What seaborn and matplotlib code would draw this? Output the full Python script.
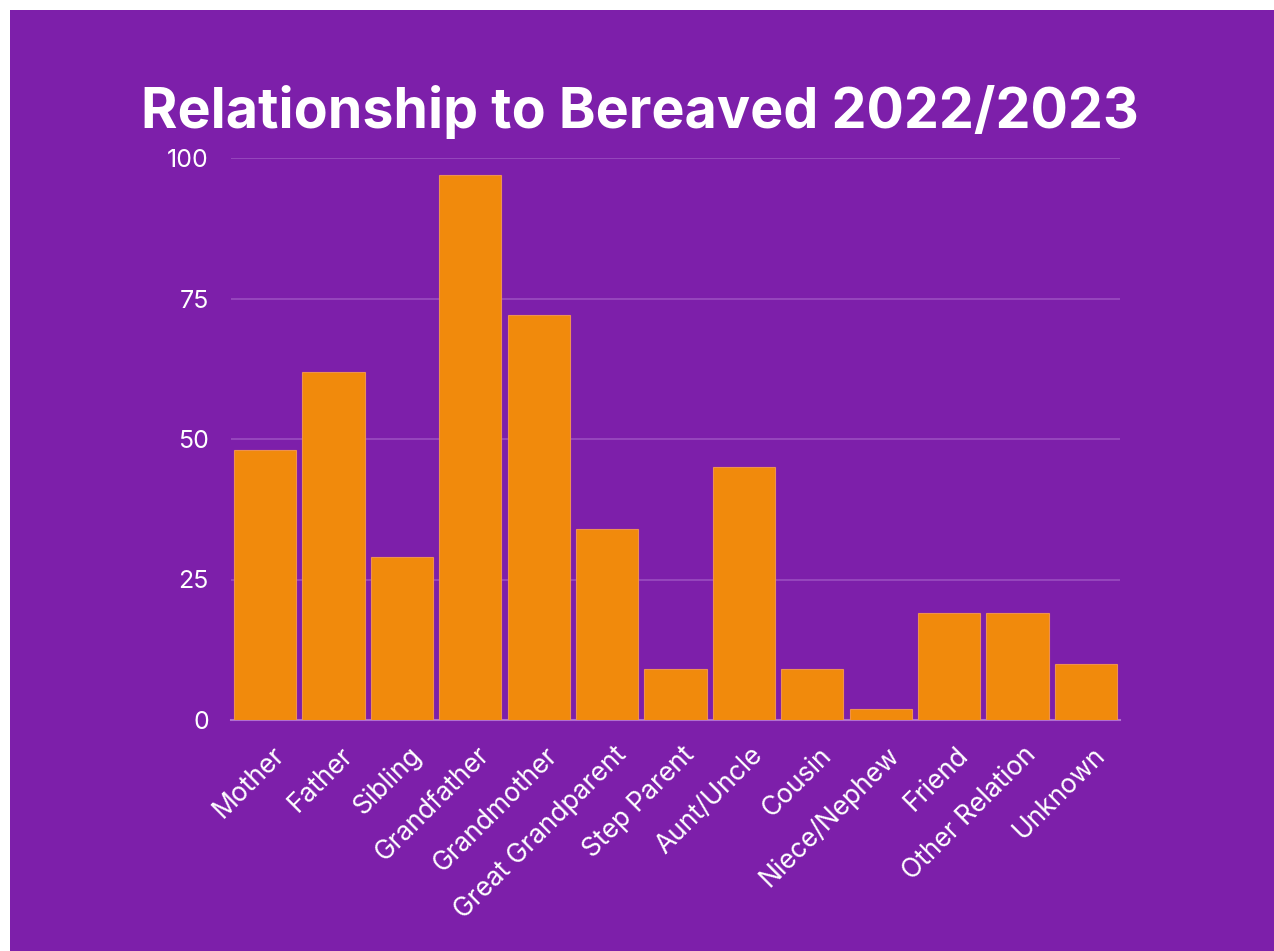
import matplotlib
matplotlib.use("Agg")
import matplotlib.pyplot as plt
import matplotlib.transforms as mtransforms
import seaborn as sns
import pandas as pd
from matplotlib.patches import Rectangle

categories = ["Mother", "Father", "Sibling", "Grandfather", "Grandmother",
              "Great Grandparent", "Step Parent", "Aunt/Uncle", "Cousin",
              "Niece/Nephew", "Friend", "Other Relation", "Unknown"]
values = [48, 62, 29, 97, 72, 34, 9, 45, 9, 2, 19, 19, 10]
yticks = [0, 25, 50, 75, 100]
title = "Relationship to Bereaved 2022/2023"

PURPLE = "#7D1FAA"
ORANGE = "#F18A0C"
GRID = "#9A4DC0"

sns.set_style("white")
plt.rcParams['font.family'] = ['Inter', 'DejaVu Sans']

df = pd.DataFrame({"cat": categories, "val": values})

fig = plt.figure(figsize=(12.74, 9.51), dpi=100, facecolor="white")
fig.patches.append(Rectangle((10/1274, 0), 1 - 10/1274, 1 - 10/951,
                             transform=fig.transFigure, facecolor=PURPLE,
                             edgecolor="none", zorder=-10))
ax = fig.add_axes([231/1274, 1 - 720/951, (1120 - 231)/1274, (720 - 158)/951])
ax.set_facecolor("none")

sns.barplot(data=df, x="cat", y="val", color=ORANGE, width=0.91,
            saturation=1, edgecolor="#EE9050", linewidth=0.8, ax=ax, zorder=3)

ax.set_ylim(0, 100)
ax.set_xlim(-0.5, len(categories) - 0.5)
ax.set_yticks(yticks)
ax.set_yticklabels([str(t) for t in yticks])
ax.yaxis.grid(True, color=GRID, linewidth=1.2, zorder=0)
ax.set_axisbelow(True)
for s in ["top", "right", "left"]:
    ax.spines[s].set_visible(False)
ax.spines["bottom"].set_color("#B070D0")
ax.spines["bottom"].set_linewidth(1.5)
ax.set_xlabel("")
ax.set_ylabel("")
ax.tick_params(axis="y", length=0, pad=16, labelsize=18, labelcolor="white")
ax.tick_params(axis="x", length=0, pad=16, labelsize=19, labelcolor="white")
offset = mtransforms.ScaledTranslation(6/100, 0, fig.dpi_scale_trans)
for lab in ax.get_xticklabels():
    lab.set_rotation(45)
    lab.set_ha("right")
    lab.set_rotation_mode("anchor")
    lab.set_transform(lab.get_transform() + offset)

fig.text(0.5025, 1 - 128/951, title, ha="center", va="baseline", color="white",
         fontsize=40, fontweight="bold")

fig.savefig("out.png", dpi=100, facecolor=fig.get_facecolor())
